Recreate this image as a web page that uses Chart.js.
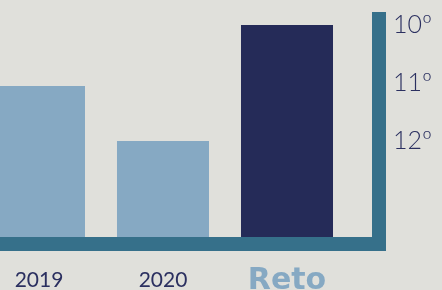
<!DOCTYPE html>
<html lang="es">
<head>
  <meta charset="UTF-8">
  <title>Ranking por año</title>
  <script src="https://cdn.jsdelivr.net/npm/chart.js"></script>
  <style>
    html, body { margin: 0; padding: 0; background: #e0e0db; overflow: hidden; }
    #wrap { position: absolute; left: -23px; top: 0; width: 465px; height: 290px; }
  </style>
</head>
<body>
  <div id="wrap"><canvas id="rankChart" width="465" height="290"></canvas></div>

  <script>
    // Data
    const years = ['2019', '2020', 'Reto'];
    const ranking = [11.05, 12, 10];
    const rankTicks = [10, 11, 12];
    const barColors = ['#86a9c3', '#86a9c3', '#252b58'];

    const axisMin = 9.776;
    const axisMax = 13.655;

    // thick frame lines (right + bottom)
    const framePlugin = {
      id: 'frame',
      afterDatasetsDraw(chart) {
        const c = chart.ctx;
        const area = chart.chartArea;
        c.save();
        c.fillStyle = '#36708a';
        c.fillRect(area.right + 23, 12, 14, area.bottom - 12 + 14);
        c.fillRect(0, area.bottom, area.right + 37, 14);
        c.restore();
      }
    };

    const ctx = document.getElementById('rankChart').getContext('2d');
    const rankChart = new Chart(ctx, {
      type: 'bar',
      data: {
        labels: years,
        datasets: [{
          data: ranking,
          base: axisMax,
          backgroundColor: barColors,
          borderWidth: 0,
          categoryPercentage: 1,
          barPercentage: 0.742
        }]
      },
      options: {
        responsive: false,
        animation: false,
        layout: { padding: { top: 12, left: 0, right: 0, bottom: 0 } },
        plugins: { legend: { display: false }, tooltip: { enabled: false } },
        scales: {
          x: {
            grid: { display: false, drawTicks: true, tickLength: 31 },
            border: { display: false },
            afterFit(scale) { scale.height = 53; },
            ticks: {
              padding: 0,
              color: c => c.index === 2 ? '#86a9c3' : '#2b3060',
              font: c => c.index === 2
                ? { family: 'DejaVu Sans', size: 30, weight: 'bold', lineHeight: 0.85 }
                : { family: 'Lato', size: 21, weight: '400', lineHeight: 1.2 }
            }
          },
          y: {
            position: 'right',
            reverse: true,
            min: axisMin,
            max: axisMax,
            grid: { display: false, drawTicks: true, tickLength: 44 },
            border: { display: false },
            afterFit(scale) { scale.width = 93; },
            afterBuildTicks(scale) { scale.ticks = rankTicks.map(v => ({ value: v })); },
            ticks: {
              padding: 0,
              color: '#2b3060',
              font: { family: 'Lato', size: 25, weight: '300', lineHeight: 0.9 },
              callback: v => v + 'º'
            }
          }
        }
      },
      plugins: [framePlugin]
    });
  </script>
</body>
</html>
